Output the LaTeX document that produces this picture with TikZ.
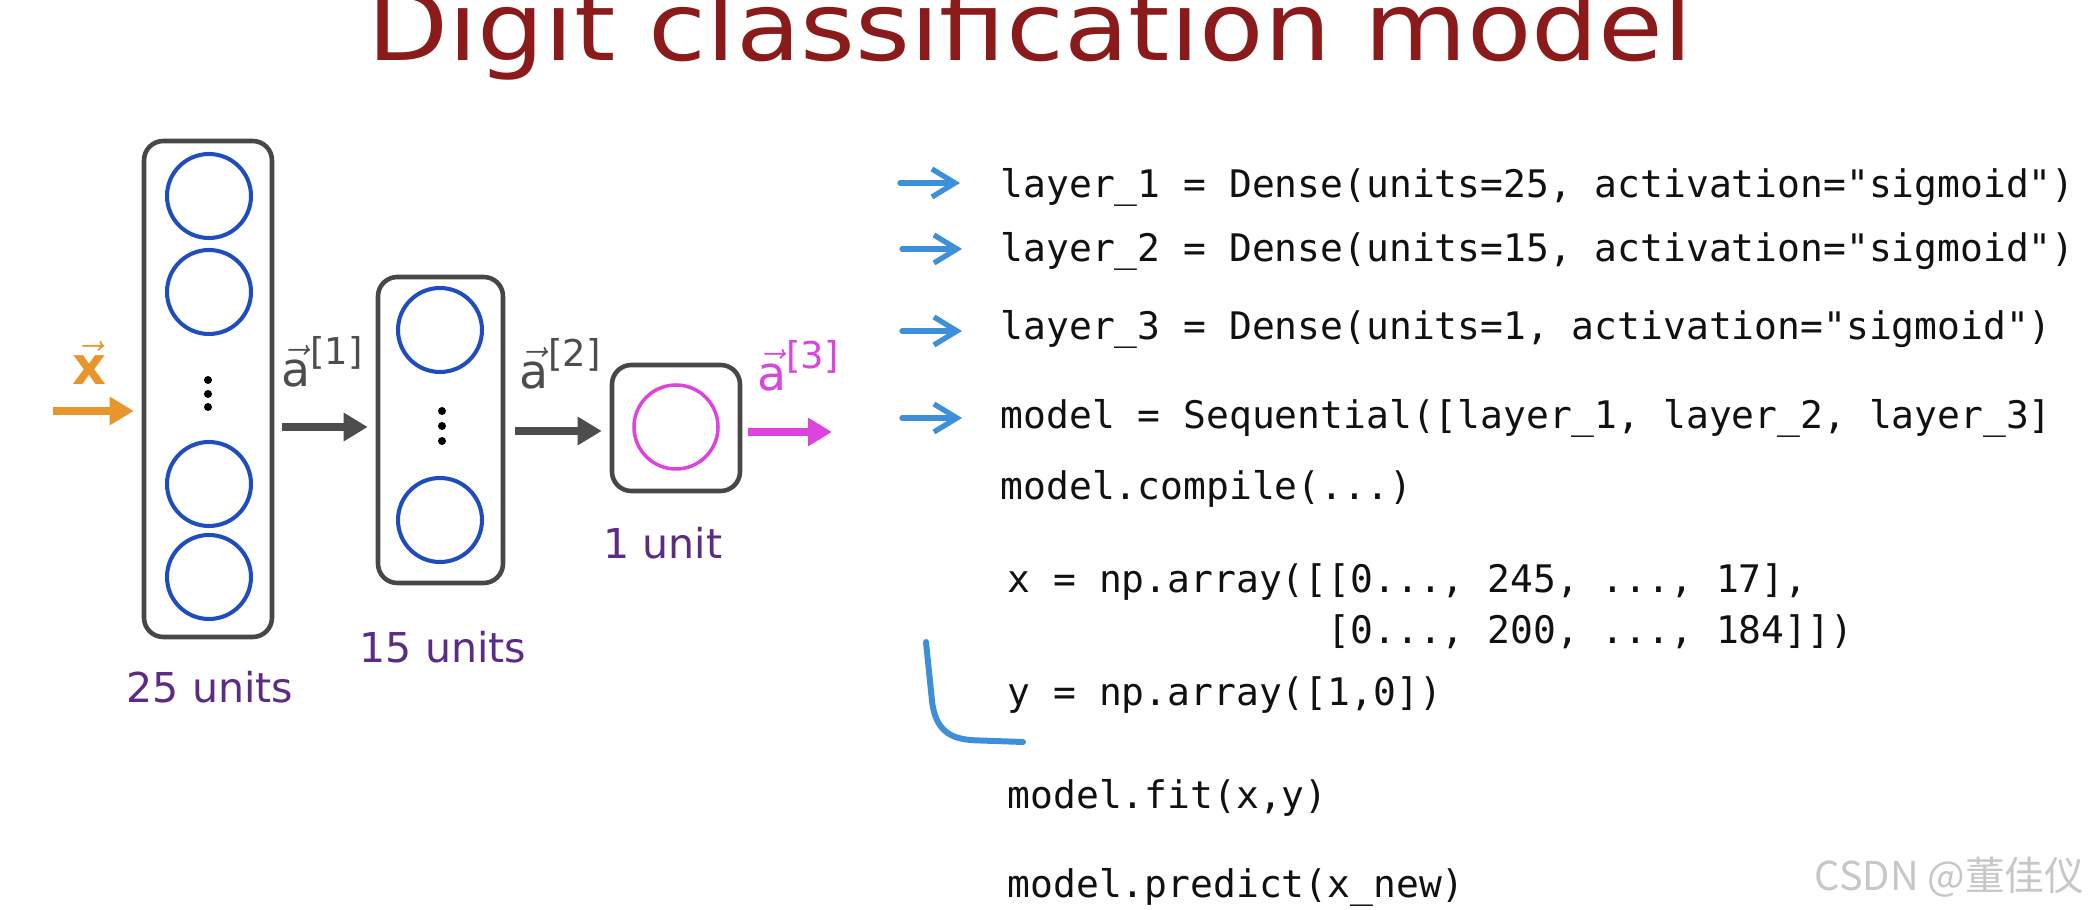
\documentclass[tikz,border=0pt]{standalone}
\usepackage{fontspec}
\setmainfont{DejaVu Sans}
\setsansfont{DejaVu Sans}
\setmonofont{DejaVu Sans Mono}
\newfontfamily\cjkfont{Noto Sans CJK SC}
\usepackage{xcolor}
\usepackage{tikz}
\usetikzlibrary{arrows.meta, positioning}
\definecolor{titlered}{HTML}{8B1A1A}
\definecolor{nnorange}{HTML}{E8952B}
\definecolor{nngray}{HTML}{4D4D4D}
\definecolor{boxgray}{HTML}{474747}
\definecolor{nnblue}{HTML}{1F4CBF}
\definecolor{nnmagenta}{HTML}{DD44DD}
\definecolor{unitpurple}{HTML}{5B2C83}
\definecolor{markblue}{HTML}{3C8FD8}
\definecolor{codeblack}{HTML}{111111}
\newcommand{\codefont}{\fontsize{10.8}{14}\ttfamily}
\newcommand{\actvec}[1]{$\vec{\mbox{a}}$\raisebox{0.22cm}{\fontsize{10.5}{12}\selectfont[#1]}}

\begin{document}
\begin{tikzpicture}[x=1cm, y=1cm,
  layerbox/.style={draw=boxgray, line width=1.3pt, rounded corners=5.5pt, inner sep=0pt},
  unitcirc/.style={circle, draw=nnblue, line width=1.15pt, inner sep=0pt, minimum size=0.84cm},
  flowarrow/.style={line width=2.3pt, shorten >=0.8mm, -{Triangle[length=2.4mm, width=2.7mm]}},
  vlabel/.style={font=\fontsize{13.5}{15}\selectfont, inner sep=0pt},
  unitlabel/.style={font=\fontsize{11.7}{13}\selectfont, text=unitpurple, inner sep=0pt},
  codeline/.style={font=\codefont, anchor=west, inner sep=0pt, text=codeblack},
  markarrow/.style={draw=markblue, line width=1.5pt, line cap=round, line join=round, -{Straight Barb[length=2.3mm, width=2.8mm]}}]
\fill[white] (0,0) rectangle (20.90,9.09);
\useasboundingbox (0,0) rectangle (20.90,9.09);
% title, cut at the top edge
\node[font=\fontsize{30}{34}\selectfont, text=titlered, anchor=base, inner sep=0pt]
  (title) at (10.30,8.48) {\scalebox{1}[0.9]{Digit classification model}};
% layer 1
\node[layerbox, minimum width=1.28cm, minimum height=4.96cm] (l1) at (2.08,5.20) {};
\node[unitcirc] (u11) at (2.09,7.13) {};
\node[unitcirc] (u12) at (2.09,6.17) {};
\node[unitcirc] (u13) at (2.09,4.25) {};
\node[unitcirc] (u14) at (2.09,3.32) {};
\fill (2.08,5.29) circle (0.04) (2.08,5.15) circle (0.04) (2.08,5.02) circle (0.04);
% layer 2
\node[layerbox, minimum width=1.25cm, minimum height=3.06cm] (l2) at (4.405,4.79) {};
\node[unitcirc] (u21) at (4.40,5.79) {};
\node[unitcirc] (u22) at (4.40,3.89) {};
\fill (4.42,4.98) circle (0.04) (4.42,4.83) circle (0.04) (4.42,4.68) circle (0.04);
% layer 3
\node[layerbox, minimum width=1.28cm, minimum height=1.26cm] (l3) at (6.76,4.81) {};
\node[unitcirc, draw=nnmagenta, line width=1.0pt] (u31) at (6.76,4.82) {};
% flow arrows
\coordinate (xin) at (0.53,4.98);
\coordinate (a1s) at (2.82,4.82);
\coordinate (a2s) at (5.15,4.78);
\coordinate (a3s) at (7.48,4.77);
\coordinate (yout) at (8.32,4.77);
\draw[flowarrow, draw=nnorange] (xin) -- (xin -| l1.west);
\draw[flowarrow, draw=nngray] (a1s) -- (a1s -| l2.west);
\draw[flowarrow, draw=nngray] (a2s) -- (a2s -| l3.west);
\draw[flowarrow, draw=nnmagenta, shorten >=0pt] (a3s) -- (yout);
\node[font=\fontsize{15}{17}\selectfont, text=nnorange, inner sep=0pt] (xlab) at (0.90,5.46) {$\vec{\mathbf{x}}$};
\node[vlabel, text=nngray] (a1lab) at (3.22,5.47) {\actvec{1}};
\node[vlabel, text=nngray] (a2lab) at (5.60,5.45) {\actvec{2}};
\node[vlabel, text=nnmagenta] (a3lab) at (7.98,5.43) {\actvec{3}};
% unit counts
\node[unitlabel] (n1) at (2.10,2.22) {25 units};
\node[unitlabel] (n2) at (4.43,2.62) {15 units};
\node[unitlabel] (n3) at (6.63,3.66) {1 unit};
% code
\node[codeline] (c1) at (10.00,7.22) {layer\_1 = Dense(units=25, activation="sigmoid")};
\node[codeline] (c2) at (10.00,6.58) {layer\_2 = Dense(units=15, activation="sigmoid")};
\node[codeline] (c3) at (10.00,5.80) {layer\_3 = Dense(units=1, activation="sigmoid")};
\node[codeline] (c4) at (10.00,4.91) {model = Sequential([layer\_1, layer\_2, layer\_3]};
\node[codeline] (c5) at (10.00,4.20) {model.compile(...)};
\node[codeline] (c6) at (10.07,3.27) {x = np.array([[0..., 245, ..., 17],};
\node[codeline] (c7) at (10.07,2.76) {\phantom{x = np.array([}[0..., 200, ..., 184]])};
\node[codeline] (c8) at (10.07,2.14) {y = np.array([1,0])};
\node[codeline] (c9) at (10.07,1.11) {model.fit(x,y)};
\node[codeline] (c10) at (10.07,0.22) {model.predict(x\_new)};
% hand-drawn marks
\draw[markarrow] ([xshift=-1.00cm, yshift=0.04cm]c1.west) -- ([xshift=-0.40cm, yshift=0.04cm]c1.west);
\draw[markarrow] ([xshift=-0.98cm, yshift=0.02cm]c2.west) -- ([xshift=-0.38cm, yshift=0.02cm]c2.west);
\draw[markarrow] ([xshift=-0.98cm, yshift=-0.02cm]c3.west) -- ([xshift=-0.38cm, yshift=-0.02cm]c3.west);
\draw[markarrow] ([xshift=-0.98cm]c4.west) -- ([xshift=-0.38cm]c4.west);
\draw[markblue, line width=1.7pt, line cap=round]
  (9.26,2.67) -- (9.32,2.08) .. controls (9.36,1.74) and (9.55,1.69) .. (9.80,1.685) -- (10.23,1.67);
% watermark
\node[font=\cjkfont\fontsize{11.3}{13}\selectfont, text=black!22, anchor=east, inner sep=0pt]
  (wm) at (20.85,0.32) {CSDN @董佳仪};
\end{tikzpicture}
\end{document}
